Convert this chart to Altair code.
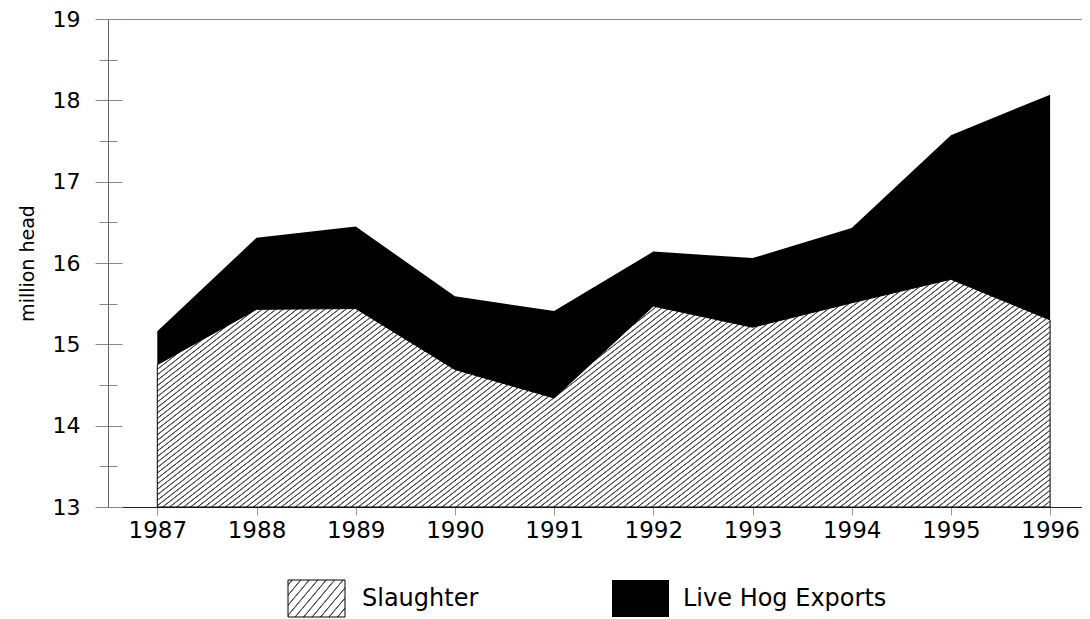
import math
import altair as alt
import pandas as pd

# ---- data ----
years = [1987, 1988, 1989, 1990, 1991, 1992, 1993, 1994, 1995, 1996]
slaughter = [14.75, 15.43, 15.44, 14.69, 14.34, 15.47, 15.21, 15.51, 15.80, 15.30]
exports = [0.41, 0.88, 1.01, 0.90, 1.07, 0.67, 0.85, 0.92, 1.77, 2.77]
series_names = ["Slaughter", "Live Hog Exports"]
y_ticks = [13, 14, 15, 16, 17, 18, 19]
y_minor = [13.5, 14.5, 15.5, 16.5, 17.5, 18.5]
y_title = "million head"

# ---- layout / style ----
PLOT_W, PLOT_H = 960, 488
PX_PER_YEAR = 99.2
X_MIN = years[0] - 35.3 / PX_PER_YEAR
X_MAX = X_MIN + PLOT_W / PX_PER_YEAR
Y_MIN, Y_MAX = y_ticks[0], y_ticks[-1]
FONT = "DejaVu Sans"

df = pd.DataFrame({"year": years, "slaughter": slaughter, "exports": exports})
df["total"] = df["slaughter"] + df["exports"]


def hatch(W, H, theta_deg, period, line_color="#505050", bg="#ffffff", half=0.3, soft=0.55):
    """Diagonal stripes built from a linear gradient in objectBoundingBox units."""
    th = math.radians(theta_deg)
    a = W * math.sin(th)
    b = H * math.cos(th)
    L = a + b
    s = (a + b) / (a * a + b * b)
    stops = [{"offset": 0, "color": bg}]
    n = int(L / period) + 2
    for k in range(n):
        c = (k + 0.5) * period
        for p, col in [(c - half - soft, bg), (c - half, line_color), (c + half, line_color), (c + half + soft, bg)]:
            if 0 < p < L:
                stops.append({"offset": round(p / L, 6), "color": col})
    stops.append({"offset": 1, "color": bg})
    return {"gradient": "linear", "x1": 0, "y1": 0, "x2": s * a, "y2": s * b, "stops": stops}


area_w = (years[-1] - years[0]) * PX_PER_YEAR
area_h = (max(slaughter) - Y_MIN) / (Y_MAX - Y_MIN) * PLOT_H
area_fill = hatch(area_w, area_h, 38, 4.3)
legend_fill = hatch(57, 37, 50, 6.5)

x_scale = alt.Scale(domain=[X_MIN, X_MAX], nice=False, zero=False)
y_scale = alt.Scale(domain=[Y_MIN, Y_MAX], nice=False, zero=False)

hatched = alt.Chart(df).mark_area(fill=area_fill, stroke="#000", strokeWidth=1).encode(
    x=alt.X("year:Q", scale=x_scale, axis=alt.Axis(
        orient="bottom", values=years, format="d", tickSize=8, tickColor="#999",
        domainColor="#222", labelFont=FONT, labelFontSize=23, labelColor="#000",
        labelPadding=4, grid=False, title=None, labelFlush=False, labelOverlap=False)),
    y=alt.Y("slaughter:Q", scale=y_scale, axis=alt.Axis(
        orient="left", values=y_ticks, format="d", offset=0, tickSize=27, tickColor="#888",
        domain=False, labelFont=FONT, labelFontSize=22, labelColor="#000", labelPadding=15,
        grid=False, title=y_title, titleFont=FONT, titleFontSize=19, titleFontWeight="normal",
        titleColor="#000", titlePadding=15, labelFlush=False, labelOverlap=False)),
    y2=alt.datum(Y_MIN),
)

black = alt.Chart(df).mark_area(fill="#000", strokeWidth=0).encode(
    x=alt.X("year:Q", scale=x_scale, axis=None),
    y=alt.Y("total:Q", scale=y_scale, axis=alt.Axis(
        orient="left", values=y_minor, offset=5, tickSize=18, tickColor="#888",
        labels=False, domain=False, grid=False, title=None)),
    y2="slaughter:Q",
)

frame = alt.Chart(df).mark_line(opacity=0).encode(
    x=alt.X("year:Q", scale=x_scale, axis=alt.Axis(
        orient="top", domain=True, domainColor="#888", ticks=False, labels=False,
        grid=False, title=None)),
    y=alt.Y("total:Q", scale=y_scale, axis=alt.Axis(
        orient="left", offset=14, domain=True, domainColor="#666", ticks=False,
        labels=False, grid=False, title=None)),
)

leg1 = pd.DataFrame({"label": [series_names[0]]})
leg2 = pd.DataFrame({"label": [series_names[1]]})

sw1 = alt.Chart(leg1).mark_rect(fill=legend_fill, stroke="#000", strokeWidth=1).encode(
    x=alt.value(166), x2=alt.value(223), y=alt.value(561), y2=alt.value(598))
sw2 = alt.Chart(leg2).mark_rect(fill="#000").encode(
    x=alt.value(490), x2=alt.value(547), y=alt.value(561), y2=alt.value(598))
t1 = alt.Chart(leg1).mark_text(align="left", baseline="middle", font=FONT, fontSize=24, color="#000").encode(
    x=alt.value(240), y=alt.value(580), text="label:N")
t2 = alt.Chart(leg2).mark_text(align="left", baseline="middle", font=FONT, fontSize=24, color="#000").encode(
    x=alt.value(561), y=alt.value(580), text="label:N")

chart = alt.layer(hatched, black, frame, sw1, sw2, t1, t2).resolve_axis(
    x="independent", y="independent"
).properties(
    width=PLOT_W, height=PLOT_H,
    padding={"left": 114, "top": 11, "right": 0, "bottom": 112},
    autosize=alt.AutoSizeParams(type="none"),
    background="#ffffff",
).configure_view(stroke="transparent")

chart.save("out.html", embed_options={"renderer": "svg", "actions": False})
